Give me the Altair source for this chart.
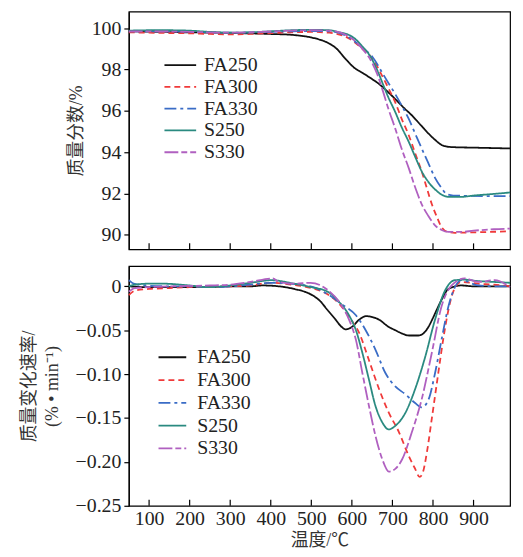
import altair as alt
import pandas as pd

series = ["FA250", "FA300", "FA330", "S250", "S330"]
colors = ["#111111", "#f03a3a", "#3a6cc6", "#2a8a80", "#b060c0"]
dashes = [[1, 0], [6, 4], [12, 4, 3, 4], [1, 0], [14, 3, 6, 3]]
x_ticks = [100, 200, 300, 400, 500, 600, 700, 800, 900]
tg_ticks = [90, 92, 94, 96, 98, 100]
dtg_ticks = [-0.25, -0.2, -0.15, -0.1, -0.05, 0]

# ---- TG (mass fraction, %) ----
tg_T_FA250 = [50, 100, 200, 300, 400, 450, 500, 520, 540, 560, 585, 605, 626, 645, 667, 687, 707, 728, 748, 768, 789, 805, 821, 838, 854, 900, 990]
tg_FA250 = [99.85, 99.83, 99.8, 99.77, 99.72, 99.68, 99.55, 99.45, 99.3, 99.05, 98.5, 98.1, 97.84, 97.6, 97.3, 96.95, 96.57, 96.15, 95.78, 95.35, 94.9, 94.6, 94.35, 94.26, 94.24, 94.22, 94.18]

tg_T_FA300 = [50, 100, 200, 250, 300, 350, 400, 450, 500, 544, 593, 626, 650, 675, 690, 707, 723, 740, 756, 772, 785, 797, 810, 821, 835, 854, 900, 990]
tg_FA300 = [99.8, 99.78, 99.75, 99.72, 99.7, 99.72, 99.76, 99.8, 99.82, 99.78, 99.5, 99.0, 98.55, 97.68, 97.1, 96.41, 95.6, 94.83, 93.95, 93.08, 92.25, 91.49, 90.85, 90.38, 90.15, 90.1, 90.12, 90.17]

tg_T_FA330 = [50, 100, 200, 300, 400, 450, 500, 544, 593, 626, 650, 675, 690, 707, 723, 740, 756, 772, 789, 805, 820, 834, 850, 870, 990]
tg_FA330 = [99.85, 99.85, 99.83, 99.78, 99.82, 99.85, 99.86, 99.85, 99.55, 99.05, 98.63, 97.84, 97.35, 96.81, 96.25, 95.62, 94.9, 94.19, 93.45, 92.76, 92.3, 91.97, 91.9, 91.89, 91.87]

tg_T_S250 = [50, 100, 150, 200, 250, 300, 350, 400, 450, 500, 544, 570, 593, 610, 626, 640, 650, 663, 675, 690, 707, 723, 740, 756, 772, 789, 805, 821, 838, 870, 900, 950, 990]
tg_S250 = [99.88, 99.9, 99.9, 99.88, 99.82, 99.78, 99.8, 99.85, 99.9, 99.92, 99.9, 99.8, 99.67, 99.45, 99.11, 98.8, 98.48, 97.95, 97.37, 96.65, 95.94, 95.2, 94.51, 93.78, 93.08, 92.55, 92.2, 91.95, 91.84, 91.84, 91.9, 91.98, 92.05]

tg_T_S330 = [50, 100, 200, 300, 400, 450, 500, 544, 593, 626, 650, 663, 675, 690, 707, 723, 740, 756, 772, 789, 805, 820, 838, 870, 900, 950, 990]
tg_S330 = [99.85, 99.85, 99.82, 99.78, 99.84, 99.88, 99.9, 99.88, 99.6, 99.0, 98.32, 97.75, 97.05, 96.1, 95.14, 94.15, 93.24, 92.3, 91.49, 90.9, 90.46, 90.25, 90.14, 90.14, 90.2, 90.27, 90.3]

# ---- DTG (mass change rate, %/min) ----
dtg_T_FA250 = [50, 100, 150, 200, 250, 300, 350, 380, 420, 458, 498, 520, 540, 560, 572, 585, 601, 618, 635, 667, 690, 707, 725, 740, 764, 780, 789, 800, 813, 825, 838, 870, 900, 950, 990]
dtg_FA250 = [0, -0.001, -0.001, -0.001, -0.001, 0, 0, 0.001, 0, -0.003, -0.009, -0.016, -0.027, -0.038, -0.045, -0.049, -0.046, -0.038, -0.034, -0.038, -0.046, -0.05, -0.054, -0.056, -0.056, -0.052, -0.046, -0.036, -0.023, -0.012, -0.003, 0.001, 0, 0, 0]

dtg_T_FA300 = [50, 65, 100, 150, 200, 250, 300, 350, 400, 450, 500, 540, 569, 593, 618, 642, 667, 691, 716, 740, 755, 767, 775, 785, 797, 813, 825, 838, 850, 870, 911, 950, 990]
dtg_FA300 = [-0.01, -0.005, -0.003, -0.002, -0.001, -0.001, 0, 0.001, 0.004, 0.002, -0.002, -0.009, -0.02, -0.035, -0.053, -0.084, -0.117, -0.144, -0.166, -0.193, -0.207, -0.217, -0.212, -0.189, -0.151, -0.099, -0.061, -0.027, -0.006, 0.005, 0.003, 0.002, 0]

dtg_T_FA330 = [50, 62, 90, 150, 200, 250, 300, 350, 400, 450, 505, 544, 577, 610, 634, 658, 683, 707, 732, 756, 772, 789, 805, 821, 838, 854, 870, 911, 950, 990]
dtg_FA330 = [0.007, 0.003, 0.001, 0, 0, -0.001, 0, 0.002, 0.004, 0.003, -0.001, -0.01, -0.021, -0.033, -0.05, -0.072, -0.099, -0.114, -0.123, -0.133, -0.138, -0.129, -0.099, -0.061, -0.023, -0.001, 0.007, 0.001, 0, 0]

dtg_T_S250 = [50, 65, 100, 135, 200, 246, 300, 350, 401, 458, 500, 540, 569, 593, 610, 626, 642, 658, 675, 691, 707, 732, 756, 781, 805, 830, 854, 878, 911, 950, 990]
dtg_S250 = [0, 0.002, 0.003, 0.003, 0.001, -0.001, 0.001, 0.004, 0.007, 0.003, -0.001, -0.006, -0.018, -0.033, -0.05, -0.076, -0.106, -0.136, -0.155, -0.163, -0.159, -0.144, -0.117, -0.08, -0.038, -0.0045, 0.007, 0.0076, 0.006, 0.005, 0.004]

dtg_T_S330 = [50, 65, 150, 250, 300, 350, 405, 420, 458, 498, 540, 569, 593, 610, 626, 642, 658, 675, 691, 707, 724, 748, 772, 797, 821, 846, 878, 911, 952, 990]
dtg_S330 = [-0.006, -0.002, 0, 0.001, 0.002, 0.005, 0.009, 0.005, 0.003, 0.004, -0.004, -0.018, -0.038, -0.061, -0.099, -0.136, -0.17, -0.197, -0.211, -0.208, -0.197, -0.166, -0.129, -0.076, -0.023, 0.001, 0.009, 0.005, 0.007, -0.001]

tg_sets = [(tg_T_FA250, tg_FA250), (tg_T_FA300, tg_FA300), (tg_T_FA330, tg_FA330), (tg_T_S250, tg_S250), (tg_T_S330, tg_S330)]
dtg_sets = [(dtg_T_FA250, dtg_FA250), (dtg_T_FA300, dtg_FA300), (dtg_T_FA330, dtg_FA330), (dtg_T_S250, dtg_S250), (dtg_T_S330, dtg_S330)]


def long_df(sets):
    rows = []
    for name, (ts, vs) in zip(series, sets):
        for i, (t, v) in enumerate(zip(ts, vs)):
            rows.append({"series": name, "T": t, "v": v, "i": i})
    return pd.DataFrame(rows)


tg_df = long_df(tg_sets)
dtg_df = long_df(dtg_sets)
ticks_df = pd.DataFrame({"T": x_ticks})

SERIF = "Liberation Serif"
CJK = "Liberation Serif, Noto Sans CJK SC"
W, H1, H2 = 385, 240, 242
xscale = alt.Scale(domain=[50, 990], nice=False, zero=False)


def make_legend(lx, ly, sym, offset, rowpad):
    return alt.Legend(
        title=None, orient="none", legendX=lx, legendY=ly,
        symbolType="stroke", symbolSize=sym, symbolStrokeWidth=1.8,
        labelFont=SERIF, labelFontSize=20, labelColor="#222222",
        labelOffset=offset, clipHeight=20, rowPadding=rowpad, padding=0,
    )


def panel(df, yscale, yaxis, xaxis, height, legend):
    lines = alt.Chart(df).mark_line(strokeWidth=1.8, interpolate="monotone").encode(
        x=alt.X("T:Q", scale=xscale, axis=xaxis),
        y=alt.Y("v:Q", scale=yscale, axis=yaxis),
        color=alt.Color("series:N", scale=alt.Scale(domain=series, range=colors), legend=legend),
        strokeDash=alt.StrokeDash("series:N", scale=alt.Scale(domain=series, range=dashes), legend=legend),
        order="i:Q",
    )
    tk = alt.Chart(ticks_df).mark_rule(color="black", strokeWidth=1.2).encode(
        x=alt.X("T:Q", scale=xscale),
        y=alt.value(height),
        y2=alt.value(height - 6),
    )
    return alt.layer(lines, tk).properties(width=W, height=height)


top = panel(
    tg_df,
    alt.Scale(domain=[89.3, 100.8], nice=False, zero=False),
    alt.Axis(values=tg_ticks, title="质量分数/%", tickSize=5, labelPadding=3, titlePadding=6,
             labelFontSize=20, titleFontSize=18, labelFont=SERIF, titleFont=CJK, grid=False),
    None,
    H1,
    make_legend(35, 44, 1024, 7, 2),
)

bottom = panel(
    dtg_df,
    alt.Scale(domain=[-0.25, 0.023], nice=False, zero=False),
    alt.Axis(values=dtg_ticks, title=["质量变化速率/", "(% • min⁻¹)"], tickSize=5, labelPadding=3, titlePadding=14,
             labelExpr="datum.value == 0 ? '0' : format(datum.value, '.2f')",
             labelFontSize=20, titleFontSize=18, labelFont=SERIF, titleFont=CJK, grid=False,
             titleLineHeight=23),
    alt.Axis(values=x_ticks, title="温度/℃", ticks=False, labelPadding=3, titlePadding=3, format="d",
             labelFontSize=20, titleFontSize=18, labelFont=SERIF, titleFont=CJK, grid=False, domain=False),
    H2,
    make_legend(29, 82, 784, 10, 3),
)

chart = alt.vconcat(top, bottom, spacing=14).resolve_scale(
    color="independent", strokeDash="independent"
).resolve_legend(
    color="independent", strokeDash="independent"
).properties(
    padding={"left": 12, "top": 0, "right": 0, "bottom": 0}
).configure_view(
    stroke="black", strokeWidth=1.2
).configure_axis(
    domainColor="black", tickColor="black", labelColor="#222222", titleColor="#333333",
    titleFontWeight="normal", domainWidth=1.2, tickWidth=1.2,
)

chart.save("out.html", embed_options={"renderer": "svg", "actions": False})
